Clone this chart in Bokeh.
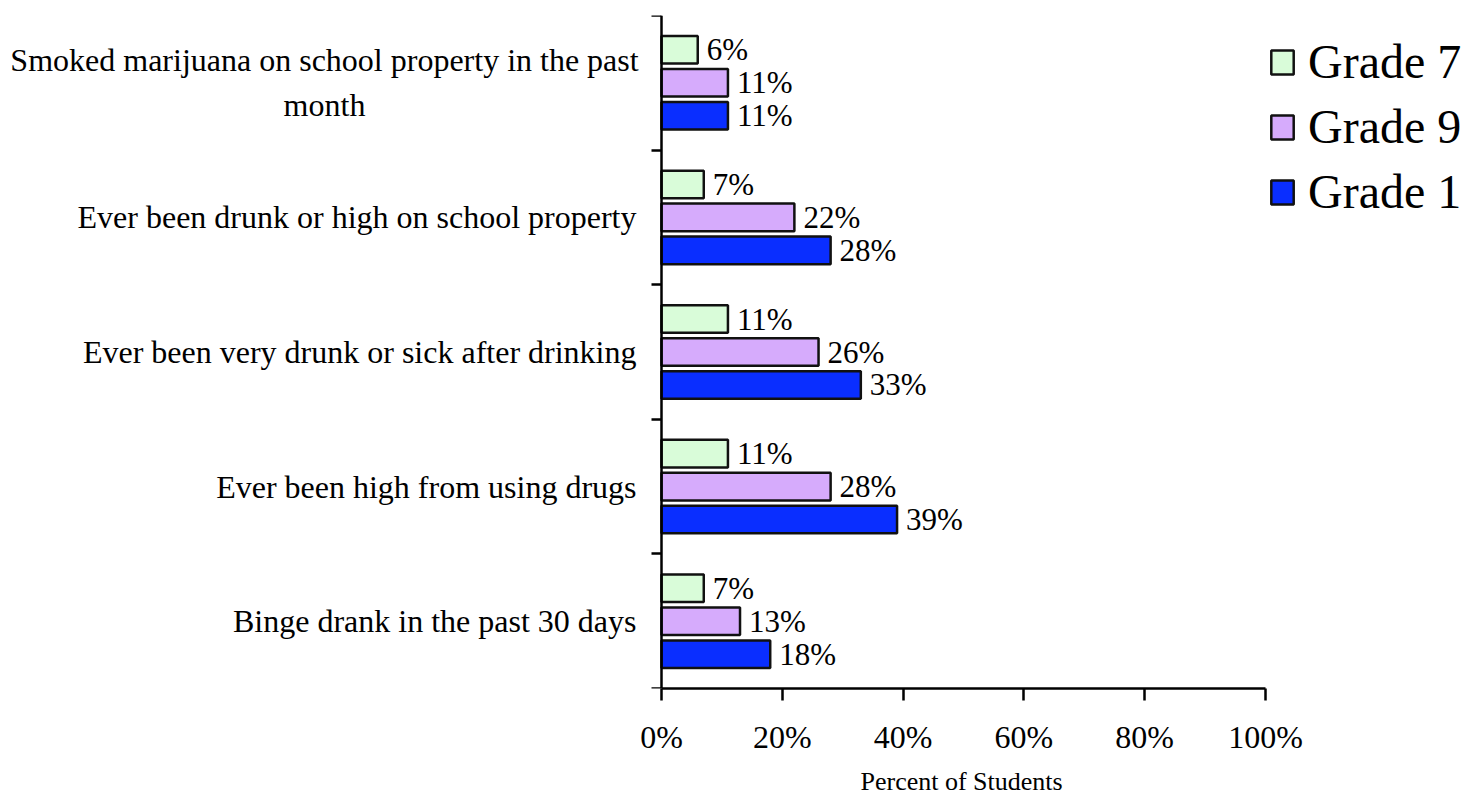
from bokeh.plotting import figure
from bokeh.models import Range1d, FixedTicker, ColumnDataSource, Title
from bokeh.core.properties import value
from bokeh.embed import file_html
from bokeh.resources import INLINE

# ---- data ----
categories = [
    "Binge drank in the past 30 days",
    "Ever been high from using drugs",
    "Ever been very drunk or sick after drinking",
    "Ever been drunk or high on school property",
    "Smoked marijuana on school property in the past\nmonth",
]
series = ["Grade 7", "Grade 9", "Grade 1"]
grade7 = [7, 11, 11, 7, 6]
grade9 = [13, 28, 26, 22, 11]
grade1 = [18, 39, 33, 28, 11]
x_ticks = [0, 20, 40, 60, 80, 100]
x_tick_labels = ["0%", "20%", "40%", "60%", "80%", "100%"]

colors = ["#D9FCD9", "#D6ABFC", "#0A2EFF"]
offsets = [0.245, 0.0, -0.245]
FONT = "Liberation Serif"

# frame spans the full width; 0% sits at x=661 px, 100% at x=1265 px
PX_PER_UNIT = 6.04
p = figure(width=1476, height=806, output_backend="svg", toolbar_location=None,
           x_range=Range1d(-661 / PX_PER_UNIT, 815 / PX_PER_UNIT), y_range=Range1d(0, 5),
           min_border_left=0, min_border_right=0, min_border_top=15,
           min_border_bottom=118)
p.outline_line_color = None
p.xgrid.visible = False
p.ygrid.visible = False
p.background_fill_color = "white"

for vals, name, col, off in zip([grade7, grade9, grade1], series, colors, offsets):
    ys = [i + 0.5 + off for i in range(len(categories))]
    src = ColumnDataSource(dict(y=ys, v=vals, t=[f"{v}%" for v in vals]))
    p.hbar(y="y", left=0, right="v", height=0.205, source=src,
           fill_color=col, line_color="#111111", line_width=2.5, legend_label=name)
    p.text(x="v", y="y", text="t", source=src, x_offset=9, text_baseline="middle",
           text_font=value(FONT), text_font_size="31px", text_color="black")

# category labels
single = [(i + 0.5, c) for i, c in enumerate(categories) if "\n" not in c]
multi = [(i + 0.5, c) for i, c in enumerate(categories) if "\n" in c]
p.text(x=[0] * len(single), y=[s[0] for s in single], text=[s[1] for s in single],
       x_offset=-25, text_align="right", text_baseline="middle",
       text_font=value(FONT), text_font_size="32px", text_color="black")
p.text(x=[0] * len(multi), y=[m[0] for m in multi], text=[m[1] for m in multi],
       x_offset=-337, text_align="center", text_baseline="middle", text_line_height=1.24,
       text_font=value(FONT), text_font_size="32px", text_color="black")

# y axis at x=0 with ticks at category boundaries
ya = p.yaxis[0]
ya.fixed_location = 0
ya.ticker = FixedTicker(ticks=[], minor_ticks=list(range(len(categories) + 1)))
ya.major_tick_out = 0
ya.major_tick_in = 0
ya.minor_tick_out = 10
ya.minor_tick_in = 0
ya.minor_tick_line_width = 2.5
ya.minor_tick_line_color = "black"
ya.axis_line_width = 2.5
ya.axis_line_color = "black"
ya.major_label_text_font_size = "0px"

xa = p.xaxis[0]
xa.ticker = FixedTicker(ticks=x_ticks)
xa.major_label_overrides = {t: l for t, l in zip(x_ticks, x_tick_labels)}
xa.bounds = (0, 100)
xa.major_tick_out = 12
xa.major_tick_in = 0
xa.major_tick_line_width = 2.5
xa.major_tick_line_color = "black"
xa.axis_line_width = 2.5
xa.axis_line_color = "black"
xa.major_label_standoff = 18
xa.major_label_text_font = FONT
xa.major_label_text_font_size = "32px"
xa.major_label_text_color = "black"

p.add_layout(Title(text="Percent of Students", align="left", offset=860,
                   text_font=FONT, text_font_size="26px", text_font_style="normal",
                   text_color="black", standoff=15), "below")

lg = p.legend[0]
lg.location = (1268, 469)
lg.margin = 0
lg.padding = 5
lg.border_line_color = None
lg.background_fill_alpha = 0
lg.glyph_width = 28
lg.glyph_height = 30
lg.label_standoff = 12
lg.spacing = 10
lg.label_text_font = FONT
lg.label_text_font_size = "48px"
lg.label_text_color = "black"

open("out.html", "w").write(file_html(p, INLINE))
